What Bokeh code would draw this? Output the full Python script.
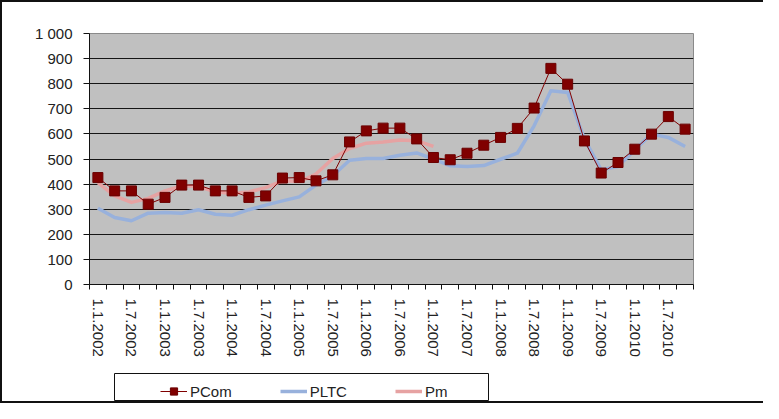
import numpy as np
from bokeh.plotting import figure
from bokeh.layouts import column, row
from bokeh.models import FixedTicker, Legend, LegendItem, Range1d
from bokeh.embed import file_html
from bokeh.resources import INLINE

# ---- data (quarterly observations) ----
quarters = [
    "1.1.2002", "1.4.2002", "1.7.2002", "1.10.2002",
    "1.1.2003", "1.4.2003", "1.7.2003", "1.10.2003",
    "1.1.2004", "1.4.2004", "1.7.2004", "1.10.2004",
    "1.1.2005", "1.4.2005", "1.7.2005", "1.10.2005",
    "1.1.2006", "1.4.2006", "1.7.2006", "1.10.2006",
    "1.1.2007", "1.4.2007", "1.7.2007", "1.10.2007",
    "1.1.2008", "1.4.2008", "1.7.2008", "1.10.2008",
    "1.1.2009", "1.4.2009", "1.7.2009", "1.10.2009",
    "1.1.2010", "1.4.2010", "1.7.2010", "1.10.2010",
]
tick_labels = [
    "1.1.2002", "1.7.2002", "1.1.2003", "1.7.2003", "1.1.2004", "1.7.2004",
    "1.1.2005", "1.7.2005", "1.1.2006", "1.7.2006", "1.1.2007", "1.7.2007",
    "1.1.2008", "1.7.2008", "1.1.2009", "1.7.2009", "1.1.2010", "1.7.2010",
]
pcom = [426, 373, 373, 320, 347, 396, 396, 373, 373, 347, 353, 424,
        426, 413, 437, 568, 612, 623, 623, 580, 506, 497, 523, 555,
        586, 622, 703, 861, 798, 572, 444, 486, 539, 599, 669, 619]
pltc = [304, 267, 254, 284, 287, 284, 298, 280, 276, 298, 316, 333,
        349, 396, 433, 495, 502, 502, 515, 524, 500, 473, 470, 474,
        499, 523, 632, 772, 765, 579, 457, 470, 537, 599, 586, 550]
pm = [406, 353, 327, 343, 373, 393, 390, 369, 363, 369, 386, 413,
      410, 440, 502, 542, 563, 568, 576, 573, 550]
y_ticks = [0, 100, 200, 300, 400, 500, 600, 700, 800, 900, 1000]

FONT = "Liberation Sans"
TXT = "#222222"
C_PCOM = "#800000"
C_PLTC = "#98b1dc"
C_PM = "#e6a2a2"

n = len(quarters)
x_all = np.arange(n) + 0.5
x_pm = x_all[:len(pm)]

p = figure(width=761, height=360, output_backend="svg", toolbar_location=None,
           x_range=Range1d(0, n), y_range=Range1d(0, 1000),
           min_border_left=87, min_border_right=70, min_border_top=31,
           min_border_bottom=78,
           background_fill_color="#c0c0c0", border_fill_color="white",
           outline_line_color="#8a8a8a", outline_line_width=1)

# grid
p.xgrid.grid_line_color = None
p.ygrid.grid_line_color = "#151515"
p.ygrid.grid_line_width = 1.2
p.ygrid.ticker = FixedTicker(ticks=y_ticks)

# y axis
p.yaxis.ticker = FixedTicker(ticks=y_ticks)
p.yaxis.major_label_overrides = {1000: "1 000"}
p.yaxis.axis_line_color = "#111111"
p.yaxis.major_tick_line_color = "#111111"
p.yaxis.major_tick_out = 6
p.yaxis.major_tick_in = 0
p.yaxis.minor_tick_line_color = None
p.yaxis.major_label_standoff = 11
p.yaxis.major_label_text_font = FONT
p.yaxis.major_label_text_font_size = "15px"
p.yaxis.major_label_text_color = TXT

# x axis: labels at half-year category centres, tick marks at category boundaries
label_pos = [float(x_all[2 * i]) for i in range(len(tick_labels))]
p.xaxis.ticker = FixedTicker(ticks=label_pos, minor_ticks=list(range(n + 1)))
p.xaxis.major_label_overrides = {pos: lab for pos, lab in zip(label_pos, tick_labels)}
p.xaxis.major_label_orientation = "vertical"
p.xaxis.axis_line_color = "#111111"
p.xaxis.major_tick_out = 0
p.xaxis.major_tick_in = 0
p.xaxis.minor_tick_line_color = "#111111"
p.xaxis.minor_tick_out = 5
p.xaxis.minor_tick_in = 0
p.xaxis.major_label_standoff = 9
p.xaxis.major_label_text_font = FONT
p.xaxis.major_label_text_font_size = "15px"
p.xaxis.major_label_text_color = TXT

# series
p.line(x_all, pltc, line_color=C_PLTC, line_width=3.5, line_join="round")
p.line(x_pm, pm, line_color=C_PM, line_width=3.5, line_join="round")
p.line(x_all, pcom, line_color=C_PCOM, line_width=1)
p.scatter(x_all, pcom, marker="square", size=10,
          fill_color=C_PCOM, line_color="#6a0000")

# ---- legend strip (its frame is the legend box) ----
pl = figure(width=761, height=39, output_backend="svg", toolbar_location=None,
            x_range=Range1d(0, 1), y_range=Range1d(0, 1),
            x_axis_location=None, y_axis_location=None,
            min_border_left=112, min_border_right=275, min_border_top=11,
            min_border_bottom=1,
            background_fill_color="white", border_fill_color="white",
            outline_line_color="#111111", outline_line_width=1)
pl.grid.grid_line_color = None
nan = [np.nan]
lg_pcom_l = pl.line(nan, nan, line_color=C_PCOM, line_width=1)
lg_pcom_m = pl.scatter(nan, nan, marker="square", size=10, fill_color=C_PCOM,
                       line_color="#6a0000")
lg_pltc = pl.line(nan, nan, line_color=C_PLTC, line_width=3.5)
lg_pm = pl.line(nan, nan, line_color=C_PM, line_width=3.5)

legend = Legend(items=[LegendItem(label="PCom", renderers=[lg_pcom_l, lg_pcom_m]),
                       LegendItem(label="PLTC", renderers=[lg_pltc]),
                       LegendItem(label="Pm", renderers=[lg_pm])],
                orientation="horizontal", location=(46, 0), margin=0,
                padding=4, spacing=48, glyph_width=27, glyph_height=18,
                label_height=18, label_standoff=3,
                label_text_font=FONT, label_text_font_size="15px",
                label_text_color=TXT,
                border_line_color=None, background_fill_alpha=0)
pl.add_layout(legend, "center")

layout = column(row(p), row(pl), spacing=0,
                styles={"border-left": "2px solid #111", "border-top": "2px solid #111",
                        "border-bottom": "2px solid #111"})

open("out.html", "w").write(file_html(layout, INLINE))
